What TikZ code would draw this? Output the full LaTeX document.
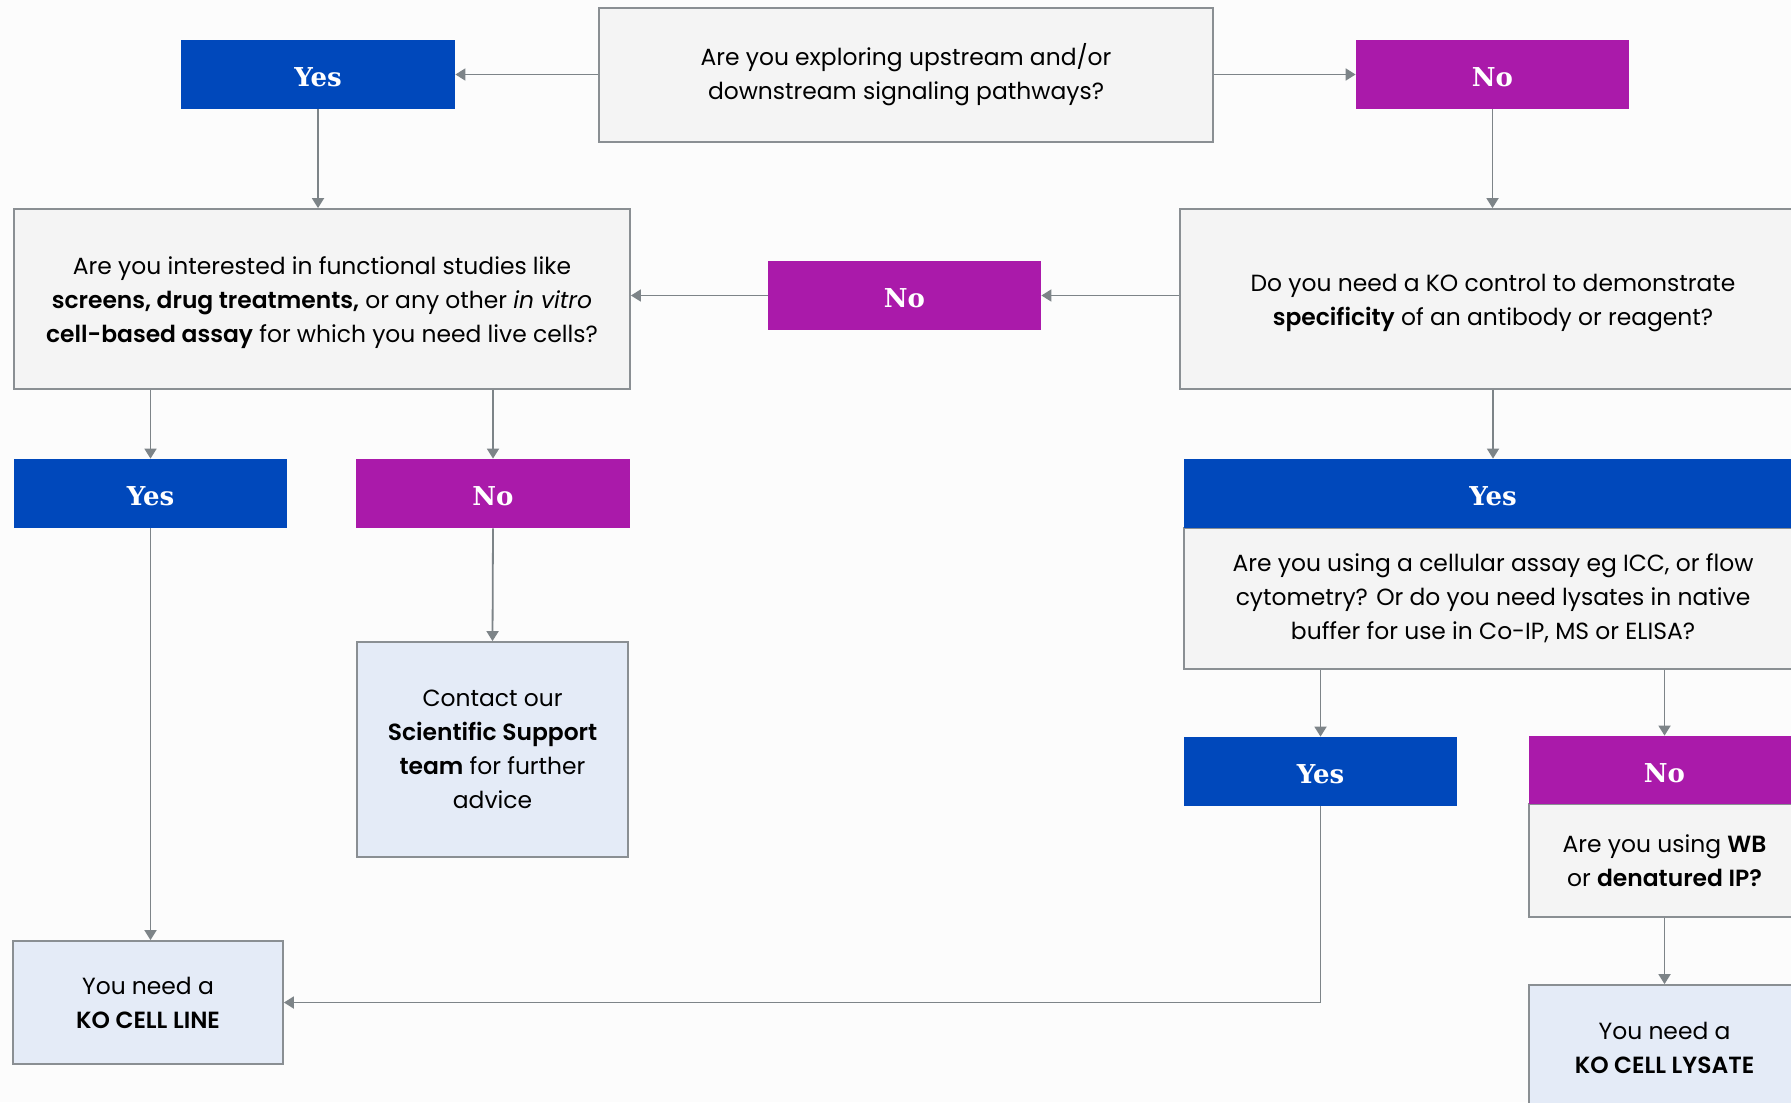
\documentclass[tikz,border=0pt]{standalone}
\usepackage{fontspec}
\setmainfont{Poppins}[BoldFont={Poppins SemiBold}]
\newfontfamily\yesnofont{DejaVu Serif}
\usetikzlibrary{arrows.meta}
\definecolor{kblue}{RGB}{0,72,187}
\definecolor{kmag}{RGB}{170,26,170}
\definecolor{boxgrey}{RGB}{244,244,244}
\definecolor{bordergrey}{RGB}{138,143,147}
\definecolor{arrgrey}{RGB}{125,132,136}
\definecolor{endblue}{RGB}{228,235,247}
\definecolor{bgc}{RGB}{252,252,252}
\tikzset{
  qbox/.style={draw=bordergrey, fill=boxgrey, line width=0.9pt, align=center, inner sep=0pt,
    font=\fontsize{11.7}{17}\selectfont},
  endbox/.style={qbox, fill=endblue},
  yesbox/.style={fill=kblue, text=white, inner sep=0pt, text depth=0pt, text height=12pt,
    font=\yesnofont\bfseries\fontsize{13}{15}\selectfont},
  nobox/.style={yesbox, fill=kmag},
  arr/.style={draw=arrgrey, line width=0.9pt, -{Triangle[length=5pt,width=6pt]}},
}
\begin{document}
\begin{tikzpicture}[x=0.5pt,y=-0.5pt]
\useasboundingbox (0,0) rectangle (1791,1102);
\fill[bgc] (0,0) rectangle (1791,1102);

% nodes
\node[qbox, minimum width=307pt, minimum height=67pt] (q1) at (906,75)
  {Are you exploring upstream and/or\\downstream signaling pathways?};
\node[yesbox, minimum width=137pt, minimum height=34.5pt] (yes1) at (318,74.5) {Yes};
\node[nobox, minimum width=136.5pt, minimum height=34.5pt] (no1) at (1492.5,74.5) {No};

\node[qbox, minimum width=308pt, minimum height=90pt] (q2) at (322,299)
  {\rule{0pt}{13pt}Are you interested in functional studies like\\
   \textbf{screens, drug treatments,} or any other \textit{in vitro}\\
   \textbf{cell-based assay} for which you need live cells?};
\node[nobox, minimum width=136.5pt, minimum height=34.5pt] (no2) at (904.5,295.5) {No};
\node[qbox, minimum width=313pt, minimum height=90pt] (q3) at (1493,299)
  {\rule{0pt}{13pt}Do you need a KO control to demonstrate\\
   \textbf{specificity} of an antibody or reagent?};

\node[yesbox, minimum width=136.5pt, minimum height=34.5pt] (yes2) at (150.5,493.5) {Yes};
\node[nobox, minimum width=137pt, minimum height=34.5pt] (no3) at (493,493.5) {No};
\node[endbox, minimum width=135.5pt, minimum height=107.5pt] (contact) at (492.5,749.5)
  {Contact our\\\textbf{Scientific Support}\\\textbf{team} for further\\advice};
\node[endbox, minimum width=135pt, minimum height=61.5pt] (koline) at (148,1002.5)
  {You need a\\\textbf{KO CELL LINE}};

\node[qbox, minimum width=309pt, minimum height=70.5pt] (q4) at (1493,598.5)
  {Are you using a cellular assay eg ICC, or flow\\
   cytometry? Or do you need lysates in native\\
   buffer for use in Co-IP, MS or ELISA?};
\node[yesbox, minimum width=309pt, minimum height=34.5pt] (yes3) at (1493,493.5) {Yes};

\node[yesbox, minimum width=136.5pt, minimum height=34.5pt] (yes4) at (1320.5,771.5) {Yes};
\node[qbox, minimum width=135.5pt, minimum height=56.5pt] (q5) at (1664.5,860.5)
  {Are you using \textbf{WB}\\or \textbf{denatured IP?}};
\node[nobox, minimum width=135.5pt, minimum height=34pt] (no4) at (1664.5,770) {No};
\node[endbox, minimum width=135.5pt, minimum height=62.5pt] (lysate) at (1664.5,1047.5)
  {You need a\\\textbf{KO CELL LYSATE}};

% connectors
\draw[arr] (q1.west |- yes1.east) -- (yes1.east);
\draw[arr] (q1.east |- no1.west) -- (no1.west);
\draw[arr] (yes1.south) -- (yes1.south |- q2.north);
\draw[arr] (no1.south) -- (no1.south |- q3.north);
\draw[arr] (q3.west |- no2.east) -- (no2.east);
\draw[arr] (no2.west) -- (no2.west -| q2.east);
\draw[arr] (yes2.north |- q2.south) -- (yes2.north);
\draw[arr] (no3.north |- q2.south) -- (no3.north);
\draw[arr] (no3.south) -- (contact.north);
\draw[arr] (yes2.south) -- (yes2.south |- koline.north);
\draw[arr] (q3.south) -- (yes3.north);
\draw[arr] (yes4.north |- q4.south) -- (yes4.north);
\draw[arr] (no4.north |- q4.south) -- (no4.north);
\draw[arr] (yes4.south) |- (koline.east);
\draw[arr] (q5.south) -- (lysate.north);
\end{tikzpicture}
\end{document}
